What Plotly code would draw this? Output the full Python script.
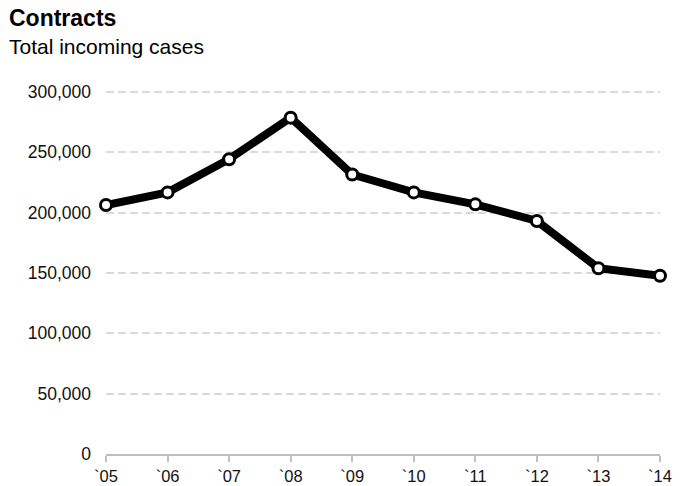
import plotly.graph_objects as go

years = ["`05", "`06", "`07", "`08", "`09", "`10", "`11", "`12", "`13", "`14"]
cases = [206200, 216700, 244200, 278600, 231500, 216700, 206800, 193000, 153900, 147600]
y_ticks = [0, 50000, 100000, 150000, 200000, 250000, 300000]

W, H = 686, 486
ml, mr, mt, mb = 106, 26, 90, 32

fig = go.Figure()
fig.add_trace(go.Scatter(
    x=list(range(len(years))), y=cases, mode="lines+markers",
    line=dict(color="black", width=8),
    marker=dict(size=11, color="white", line=dict(color="black", width=3)),
    cliponaxis=False, hoverinfo="skip", showlegend=False,
))

fig.update_layout(
    width=W, height=H,
    margin=dict(l=ml, r=mr, t=mt, b=mb),
    paper_bgcolor="white", plot_bgcolor="white",
    font=dict(family="Liberation Sans, Arial, sans-serif", size=17.5, color="#111111"),
    xaxis=dict(
        range=[0, len(years) - 1],
        tickmode="array", tickvals=list(range(len(years))), ticktext=years,
        showgrid=False, zeroline=False, automargin=False,
        showline=True, linecolor="#bfbfbf", linewidth=2,
        ticks="outside", ticklen=6, tickcolor="#bfbfbf", tickwidth=2,
        tickfont=dict(size=16.5),
    ),
    yaxis=dict(
        range=[0, 301500],
        tickmode="array", tickvals=y_ticks,
        tickformat=",", automargin=False,
        showgrid=True, gridcolor="#d9d9d9", gridwidth=2, griddash="8px,4px",
        zeroline=False, showline=False, ticks="", ticklabelstandoff=14,
        tickfont=dict(size=17.5),
    ),
    annotations=[
        dict(text="<b>Contracts</b>", x=7, y=H - 3, xref="paper", yref="paper",
             showarrow=False, xanchor="left", yanchor="top",
             font=dict(size=23, color="black")),
        dict(text="Total incoming cases", x=7, y=H - 33, xref="paper", yref="paper",
             showarrow=False, xanchor="left", yanchor="top",
             font=dict(size=21, color="black")),
    ],
)
# convert pixel coordinates of annotations into paper fractions
pw = W - ml - mr
ph = H - mt - mb
for a in fig.layout.annotations:
    a.x = (a.x - ml) / pw
    a.y = (a.y - mb) / ph

fig.write_html("out.html")
